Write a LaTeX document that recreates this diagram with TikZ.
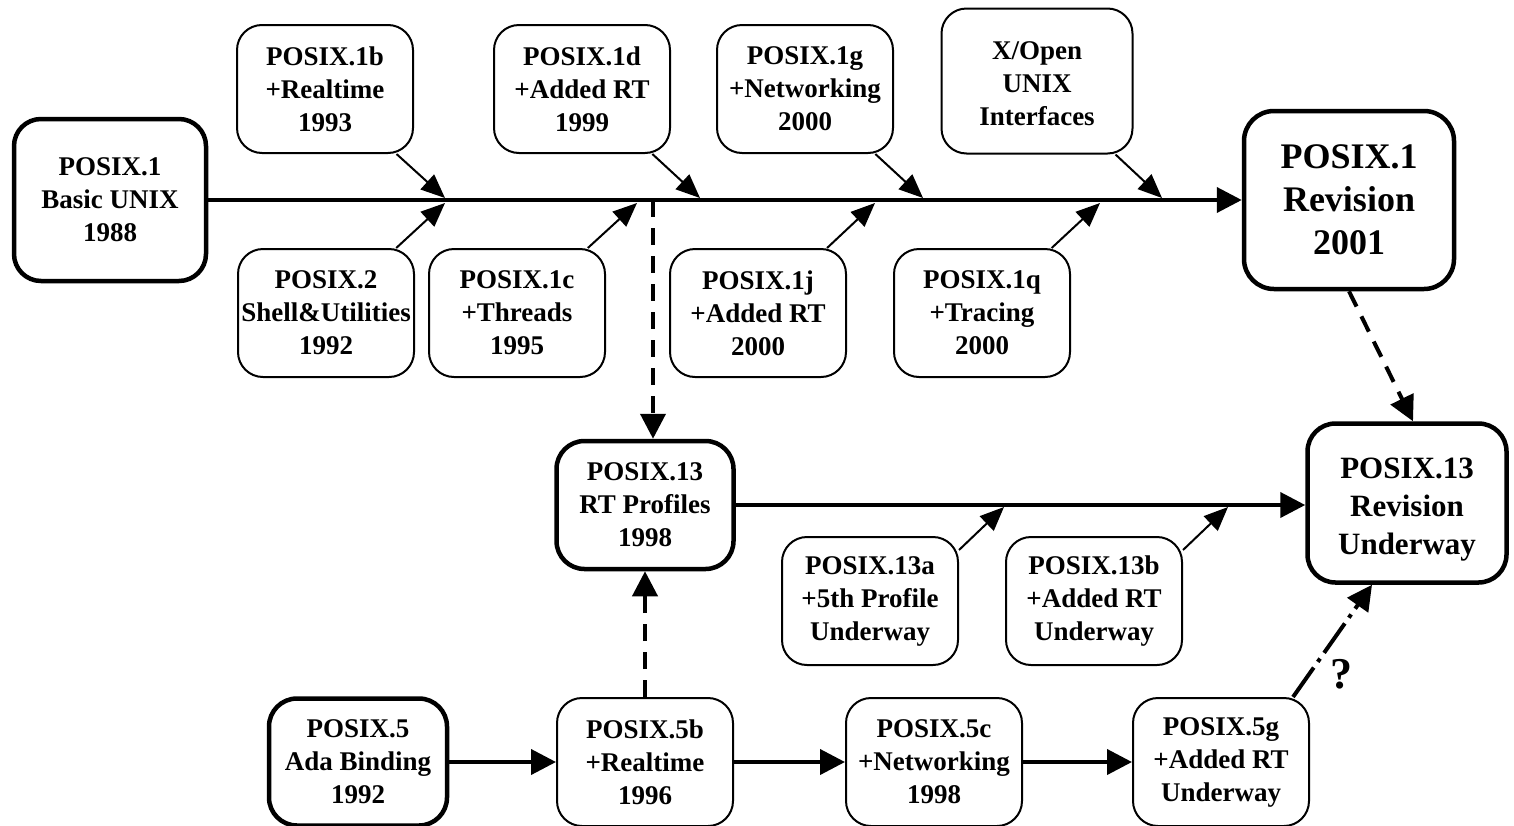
\documentclass[tikz,border=0pt]{standalone}
\usepackage{fontspec}
\setmainfont{Liberation Serif}
\usetikzlibrary{arrows.meta}

\tikzset{
	box/.style={draw, line width=2pt, rounded corners=25pt, align=center, inner sep=0pt,
		minimum width=176pt, minimum height=128pt, font=\fontsize{27}{33}\selectfont\bfseries},
	bigbox/.style={box, line width=4.5pt, rounded corners=28pt},
	feed/.style={line width=2pt, -{Triangle[length=24pt,width=20pt]}},
	mainline/.style={line width=4pt, -{Triangle[length=25pt,width=25pt]}},
	future/.style={mainline, dash pattern=on 17pt off 11pt},
}

\begin{document}
\begin{tikzpicture}[x=1pt, y=-1pt]

	\useasboundingbox (0,0) rectangle (1514,825);

	% POSIX.1 line
	\node[bigbox, minimum width=192pt, minimum height=162pt, rounded corners=27pt] (p1) at (110,200) {POSIX.1\\Basic UNIX\\1988};
	\node[bigbox, minimum width=210pt, minimum height=178pt, rounded corners=30pt, font=\fontsize{36}{43}\selectfont\bfseries] (p1rev) at (1349,200) {POSIX.1\\Revision\\2001};

	% above the line
	\node[box] (p1b) at (325,89) {POSIX.1b\\+Realtime\\1993};
	\node[box] (p1d) at (582,89) {POSIX.1d\\+Added RT\\1999};
	\node[box] (p1g) at (805,89) {POSIX.1g\\+Networking\\2000};
	\node[box, minimum width=191pt, minimum height=145pt] (xopen) at (1037,81) {\rule{0pt}{24pt}X/Open\\UNIX\\Interfaces};

	% below the line
	\node[box] (p2) at (326,313) {POSIX.2\\Shell\&Utilities\\1992};
	\node[box] (p1c) at (517,313) {POSIX.1c\\+Threads\\1995};
	\node[box] (p1j) at (758,313) {POSIX.1j\\+Added RT\\2000};
	\node[box] (p1q) at (982,313) {POSIX.1q\\+Tracing\\2000};

	% POSIX.13 line
	\node[bigbox, minimum width=177pt] (p13) at (645,505) {POSIX.13\\RT Profiles\\1998};
	\node[box] (p13a) at (870,601) {POSIX.13a\\+5th Profile\\Underway};
	\node[box] (p13b) at (1094,601) {POSIX.13b\\+Added RT\\Underway};
	\node[bigbox, minimum width=199pt, minimum height=159pt, font=\fontsize{31}{38}\selectfont\bfseries] (p13rev) at (1407,503) {\rule{0pt}{34pt}POSIX.13\\Revision\\Underway};

	% POSIX.5 line
	\node[bigbox, minimum width=178pt, minimum height=127pt] (p5) at (358,762) {POSIX.5\\Ada Binding\\1992};
	\node[box] (p5b) at (645,762) {POSIX.5b\\+Realtime\\1996};
	\node[box] (p5c) at (934,762) {POSIX.5c\\+Networking\\1998};
	\node[box] (p5g) at (1221,762) {POSIX.5g\\+Added RT\\Underway};

	% where the arrows meet the lines
	\coordinate (j1b) at (445,198);
	\coordinate (j2) at (445,203);
	\coordinate (j1c) at (637,203);
	\coordinate (jsplit) at (653,200);
	\coordinate (j1d) at (700,198);
	\coordinate (j1j) at (875,203);
	\coordinate (j1g) at (923,198);
	\coordinate (j1q) at (1100,203);
	\coordinate (jx) at (1162,198);
	\coordinate (j13a) at (1004,507);
	\coordinate (j13b) at (1228,507);

	% Arrows
	\draw[mainline] (p1) -- (p1rev);
	\draw[feed] (p1b) -- (j1b);
	\draw[feed] (p2) -- (j2);
	\draw[feed] (p1c) -- (j1c);
	\draw[feed] (p1d) -- (j1d);
	\draw[feed] (p1j) -- (j1j);
	\draw[feed] (p1g) -- (j1g);
	\draw[feed] (p1q) -- (j1q);
	\draw[feed] (xopen) -- (jx);

	\draw[future] (jsplit) -- (p13.north -| jsplit);
	\draw[future] (p5b) -- (p13);
	\draw[future] (p1rev.south) -- ([xshift=6pt]p13rev.north);

	\draw[mainline] (p13.east) -- (p13.east -| p13rev.west);
	\draw[feed] ([yshift=-14pt]p13a.north east) -- (j13a);
	\draw[feed] ([yshift=-14pt]p13b.north east) -- (j13b);

	\draw[mainline] (p5) -- (p5b);
	\draw[mainline] (p5b) -- (p5c);
	\draw[mainline] (p5c) -- (p5g);
	\draw[future, dash pattern=on 36pt off 7pt on 4pt off 7pt] ([xshift=72pt]p5g.north) -- ([xshift=-35pt]p13rev.south)
		node[pos=0.2, right=16pt, font=\fontsize{44}{46}\selectfont\bfseries] (qmark) {?};

\end{tikzpicture}
\end{document}
